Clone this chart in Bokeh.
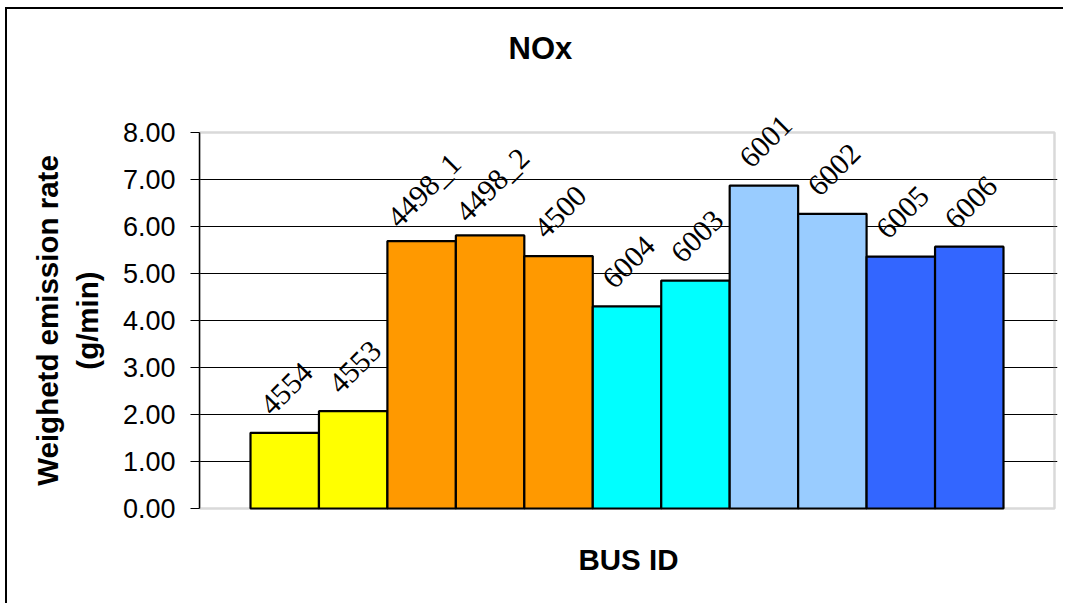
from bokeh.plotting import figure
from bokeh.models import (ColumnDataSource, FixedTicker, NumeralTickFormatter, Range1d,
                          LabelSet, BoxAnnotation, Title)
from bokeh.embed import file_html
from bokeh.resources import INLINE

# ---- data ----
bus_ids = ["4554", "4553", "4498_1", "4498_2", "4500", "6004", "6003", "6001", "6002", "6005", "6006"]
nox_rate = [1.61, 2.07, 5.69, 5.81, 5.37, 4.30, 4.85, 6.87, 6.27, 5.36, 5.57]
bar_colors = ["#FFFF00", "#FFFF00", "#FF9900", "#FF9900", "#FF9900",
              "#00FFFF", "#00FFFF", "#99CCFF", "#99CCFF", "#3366FF", "#3366FF"]
y_ticks = [0, 1, 2, 3, 4, 5, 6, 7, 8]

FONT = "Liberation Sans"
LABEL_PX = 30

# ---- layout constants (pixels) ----
PX_PER_Y = 47.0          # pixels per y unit
PX_PER_X = 68.45         # pixels per bar
Y_PAD_PX = 34            # frame extends beyond the plot area (room for labels)
X_SIDE = 0.745           # category-axis margin (in bar widths)
X_RIGHT_PAD_PX = 3

n = len(bus_ids)
xs = list(range(n))
x_lo = -0.5 - X_SIDE
x_hi = n - 0.5 + X_SIDE
y_lo, y_hi = y_ticks[0], y_ticks[-1]
y_pad = Y_PAD_PX / PX_PER_Y

yoff = [44 + (len(s) - 4) * 3.5 for s in bus_ids]

src = ColumnDataSource(dict(x=xs, top=nox_rate, color=bar_colors, label=bus_ids, yoff=yoff))

p = figure(width=1058, height=596,
           x_range=Range1d(x_lo, x_hi + X_RIGHT_PAD_PX / PX_PER_X),
           y_range=Range1d(y_lo - y_pad, y_hi + y_pad),
           output_backend="svg", toolbar_location=None,
           min_border_left=192, min_border_right=8, min_border_top=89, min_border_bottom=63)
# chart-area border (its left and top edges are inside the window)
p.styles = {"margin-left": "7px", "margin-top": "9px",
            "box-shadow": "-2px -2px 0 0 #000"}

# plot-area outline (grey, like the Excel plot area border)
p.add_layout(BoxAnnotation(left=x_lo, right=x_hi, bottom=y_lo, top=y_hi,
                           fill_color=None, line_color="#808080", line_width=2.5,
                           level="underlay"))

p.vbar(x="x", top="top", bottom=0, width=1.0, fill_color="color",
       line_color="black", line_width=2.2, source=src)

labels = LabelSet(x="x", y="top", text="label", source=src, angle=45, angle_units="deg",
                  text_align="center", text_baseline="middle", x_offset=2, y_offset="yoff",
                  text_font=FONT, text_font_size=f"{LABEL_PX}px", text_color="black")
p.add_layout(labels)

# spacer between the title and the plot frame
p.add_layout(Title(text=" ", text_font_size="1px", standoff=9), "above")

# title
p.title.text = "NOx"
p.title.text_font = FONT
p.title.text_font_size = "31px"
p.title.text_font_style = "bold"
p.title.text_color = "black"
p.title.align = "left"
p.title.offset = 309
p.title.vertical_align = "top"
p.title.standoff = 38

# y axis
p.yaxis.ticker = FixedTicker(ticks=y_ticks)
p.yaxis.bounds = (y_lo, y_hi)
p.yaxis.formatter = NumeralTickFormatter(format="0.00")
p.yaxis.major_tick_out = 9
p.yaxis.major_tick_in = 0
p.yaxis.minor_tick_line_color = None
p.yaxis.major_label_standoff = 15
p.yaxis.major_label_text_font = FONT
p.yaxis.major_label_text_font_size = "27px"
p.yaxis.major_label_text_color = "black"
p.yaxis.axis_line_color = "black"
p.yaxis.axis_line_width = 1.5
p.yaxis.major_tick_line_color = "black"
p.yaxis.axis_label = "Weighetd emission rate\n(g/min)"
p.yaxis.axis_label_text_font = FONT
p.yaxis.axis_label_text_font_size = "29.5px"
p.yaxis.axis_label_text_font_style = "bold"
p.yaxis.axis_label_text_color = "black"
p.yaxis.axis_label_standoff = 16

# x axis (only the title)
p.xaxis.ticker = FixedTicker(ticks=[])
p.xaxis.major_label_text_font_size = "0px"
p.xaxis.major_tick_out = 0
p.xaxis.major_tick_in = 0
p.xaxis.minor_tick_line_color = None
p.xaxis.axis_line_color = None
p.xaxis.axis_label = "BUS ID"
p.xaxis.axis_label_text_font = FONT
p.xaxis.axis_label_text_font_size = "29.5px"
p.xaxis.axis_label_text_font_style = "bold"
p.xaxis.axis_label_text_color = "black"
p.xaxis.axis_label_standoff = 0

# grid / frame
p.xgrid.visible = False
p.ygrid.ticker = FixedTicker(ticks=y_ticks[1:-1])
p.ygrid.grid_line_color = "black"
p.ygrid.grid_line_width = 1
p.outline_line_color = None
p.background_fill_color = "white"
p.border_fill_color = "white"

open("out.html", "w").write(file_html(p, INLINE))
